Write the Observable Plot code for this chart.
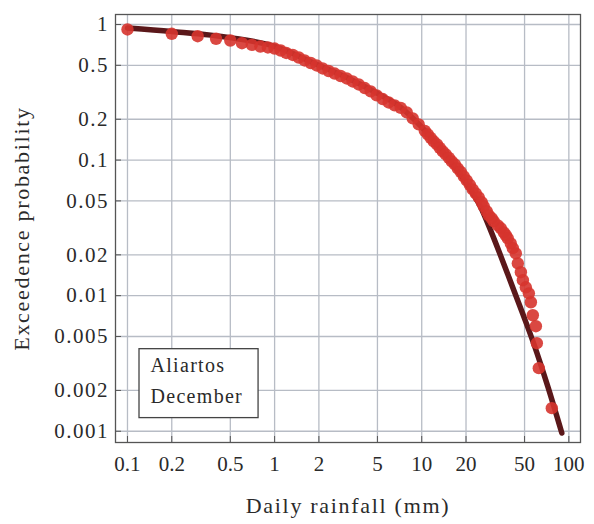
<!DOCTYPE html>
<html>
<head>
<meta charset="utf-8">
<script src="https://cdn.jsdelivr.net/npm/d3@7"></script>
<script src="https://cdn.jsdelivr.net/npm/@observablehq/plot@0.6"></script>
<style>
  html, body { margin: 0; padding: 0; background: #fff; }
  #chart svg { display: block; }
</style>
</head>
<body>
<div id="chart"></div>
<script>
// Observed exceedance probabilities (daily rainfall, mm)
const obsRain = [0.1, 0.2, 0.3, 0.4, 0.5, 0.6, 0.7, 0.8, 0.9,
  1.0, 1.1, 1.2, 1.33, 1.46, 1.6, 1.76, 1.93, 2.12, 2.33, 2.56, 2.81, 3.09, 3.39, 3.73,
  4.1, 4.5, 4.94, 5.43, 5.96, 6.55, 7.2, 7.91, 8.69, 9.54, 10.5, 11.0, 11.5, 12.06, 12.7, 13.26, 13.9, 14.57, 15.3,
  16.0, 16.8, 17.58, 18.4, 19.31, 20.2, 21.21, 22.2, 23.3, 24.4, 25.6, 26.4, 27.68, 28.6, 29.94, 30.9, 32.89, 34.5,
  36.13, 37.3, 38.46, 40.3, 41.6, 43.6, 45.0, 47.2, 48.7, 51.0, 53.5, 55.2, 56.9, 59.7, 60.6, 62.5, 76.6];
const obsProb = [0.919, 0.854, 0.820, 0.785, 0.762, 0.728, 0.708, 0.688, 0.677,
  0.665, 0.643, 0.617, 0.596, 0.571, 0.543, 0.520, 0.499, 0.474, 0.454, 0.435, 0.417, 0.400, 0.380, 0.361,
  0.340, 0.321, 0.300, 0.282, 0.266, 0.253, 0.2425, 0.2247, 0.2029, 0.1833, 0.1641, 0.1546, 0.1458, 0.1373, 0.1305, 0.1230, 0.1159, 0.1102, 0.1038,
  0.0978, 0.0929, 0.0869, 0.0818, 0.0759, 0.0709, 0.0657, 0.0608, 0.0568, 0.0531, 0.0488, 0.0456, 0.0419, 0.0391, 0.0372, 0.0353, 0.0330, 0.0314,
  0.0293, 0.0279, 0.0265, 0.0243, 0.0224, 0.0205, 0.0173, 0.0149, 0.0130, 0.01153, 0.0104, 0.00894, 0.00717, 0.00595, 0.00446, 0.00292, 0.00148];

// Fitted distribution curve
const fitRain = [0.1, 0.2, 0.5, 1, 2, 3.2, 5, 7.2, 10, 14.1, 20, 25.2, 29.4, 38.5, 48.6, 57.8, 71.9, 89.6];
const fitProb = [0.942, 0.888, 0.80, 0.69, 0.50, 0.40, 0.31, 0.245, 0.175, 0.113, 0.068, 0.0448, 0.0303, 0.0143, 0.00735, 0.00441, 0.00214, 0.00097];

// Axes
const xTicks = [0.1, 0.2, 0.5, 1, 2, 5, 10, 20, 50, 100];
const xTickLabels = ["0.1", "0.2", "0.5", "1", "2", "5", "10", "20", "50", "100"];
const yTicks = [1, 0.5, 0.2, 0.1, 0.05, 0.02, 0.01, 0.005, 0.002, 0.001];
const yTickLabels = ["1", "0.5", "0.2", "0.1", "0.05", "0.02", "0.01", "0.005", "0.002", "0.001"];
const xDomain = [0.0829, 120];
const yDomain = [0.000826, 1.185];
const xTitle = "Daily rainfall (mm)";
const yTitle = "Exceedence probability";

// Station annotation box (data units)
const stationLines = ["Aliartos", "December"];
const stationLineProb = [0.00304, 0.00180];
const stationTextRain = 0.1434;
const boxRain = [0.1207, 0.778];
const boxProb = [0.00125, 0.00403];

const obs = obsRain.map((r, i) => ({r, p: obsProb[i]}));
const fit = fitRain.map((r, i) => ({r, p: fitProb[i]}));

const font = "Liberation Serif, Times New Roman, serif";
const ink = "#2a2a2a";

const chart = Plot.plot({
  width: 594,
  height: 524,
  marginLeft: 115,
  marginRight: 14,
  marginTop: 14,
  marginBottom: 82,
  style: {fontFamily: font, background: "#fff", color: ink},
  x: {type: "log", domain: xDomain, label: null},
  y: {type: "log", domain: yDomain, label: null},
  marks: [
    Plot.gridX(xTicks, {stroke: "#b7bcc5", strokeOpacity: 1, strokeWidth: 1.3}),
    Plot.gridY(yTicks, {stroke: "#b7bcc5", strokeOpacity: 1, strokeWidth: 1.3}),
    Plot.axisX({ticks: xTicks, tickFormat: () => "", tickSize: -6, stroke: "#555", label: null}),
    Plot.axisY({ticks: yTicks, tickFormat: () => "", tickSize: -6, stroke: "#555", label: null}),
    Plot.text(xTicks, {x: d => d, text: (d, i) => xTickLabels[i], frameAnchor: "bottom", dy: 14, lineAnchor: "top", textAnchor: "middle", fontSize: 21, fill: ink}),
    Plot.text(yTicks, {y: d => d, text: (d, i) => yTickLabels[i], frameAnchor: "left", dx: -6.5, lineAnchor: "middle", textAnchor: "end", fontSize: 21, fill: ink}),
    Plot.frame({stroke: "#555", strokeWidth: 1.3}),
    Plot.rect([0], {x1: () => boxRain[0], x2: () => boxRain[1], y1: () => boxProb[0], y2: () => boxProb[1], fill: "#fff", stroke: "#444", strokeWidth: 1.3}),
    Plot.text(stationLines, {x: () => stationTextRain, y: (d, i) => stationLineProb[i], text: d => d, textAnchor: "start", lineAnchor: "middle", fontSize: 20, fill: ink}),
    Plot.line(fit, {x: "r", y: "p", stroke: "#5b181a", strokeWidth: 5.5, curve: "monotone-x"}),
    Plot.dot(obs, {x: "r", y: "p", r: 6.2, fill: "#d6342d", fillOpacity: 0.9, stroke: "none"}),
    Plot.text([xTitle], {frameAnchor: "bottom", dy: 70, lineAnchor: "bottom", textAnchor: "middle", fontSize: 22, fill: ink, text: d => d}),
    Plot.text([yTitle], {frameAnchor: "left", dx: -87, rotate: -90, lineAnchor: "bottom", textAnchor: "middle", fontSize: 22, fill: ink, text: d => d})
  ]
});
d3.select(chart).selectAll("text").each(function() {
  const t = this.textContent;
  if (yTickLabels.includes(t) && this.getAttribute("text-anchor") === "end" || (this.parentNode && this.parentNode.getAttribute("text-anchor") === "end" && yTickLabels.includes(t))) {
    this.style.letterSpacing = "1.5px";
  } else if (stationLines.includes(t)) {
    this.style.letterSpacing = "1.3px";
  } else if (t === xTitle || t === yTitle) {
    this.style.letterSpacing = "1.7px";
  }
});
document.getElementById("chart").appendChild(chart);
</script>
</body>
</html>
